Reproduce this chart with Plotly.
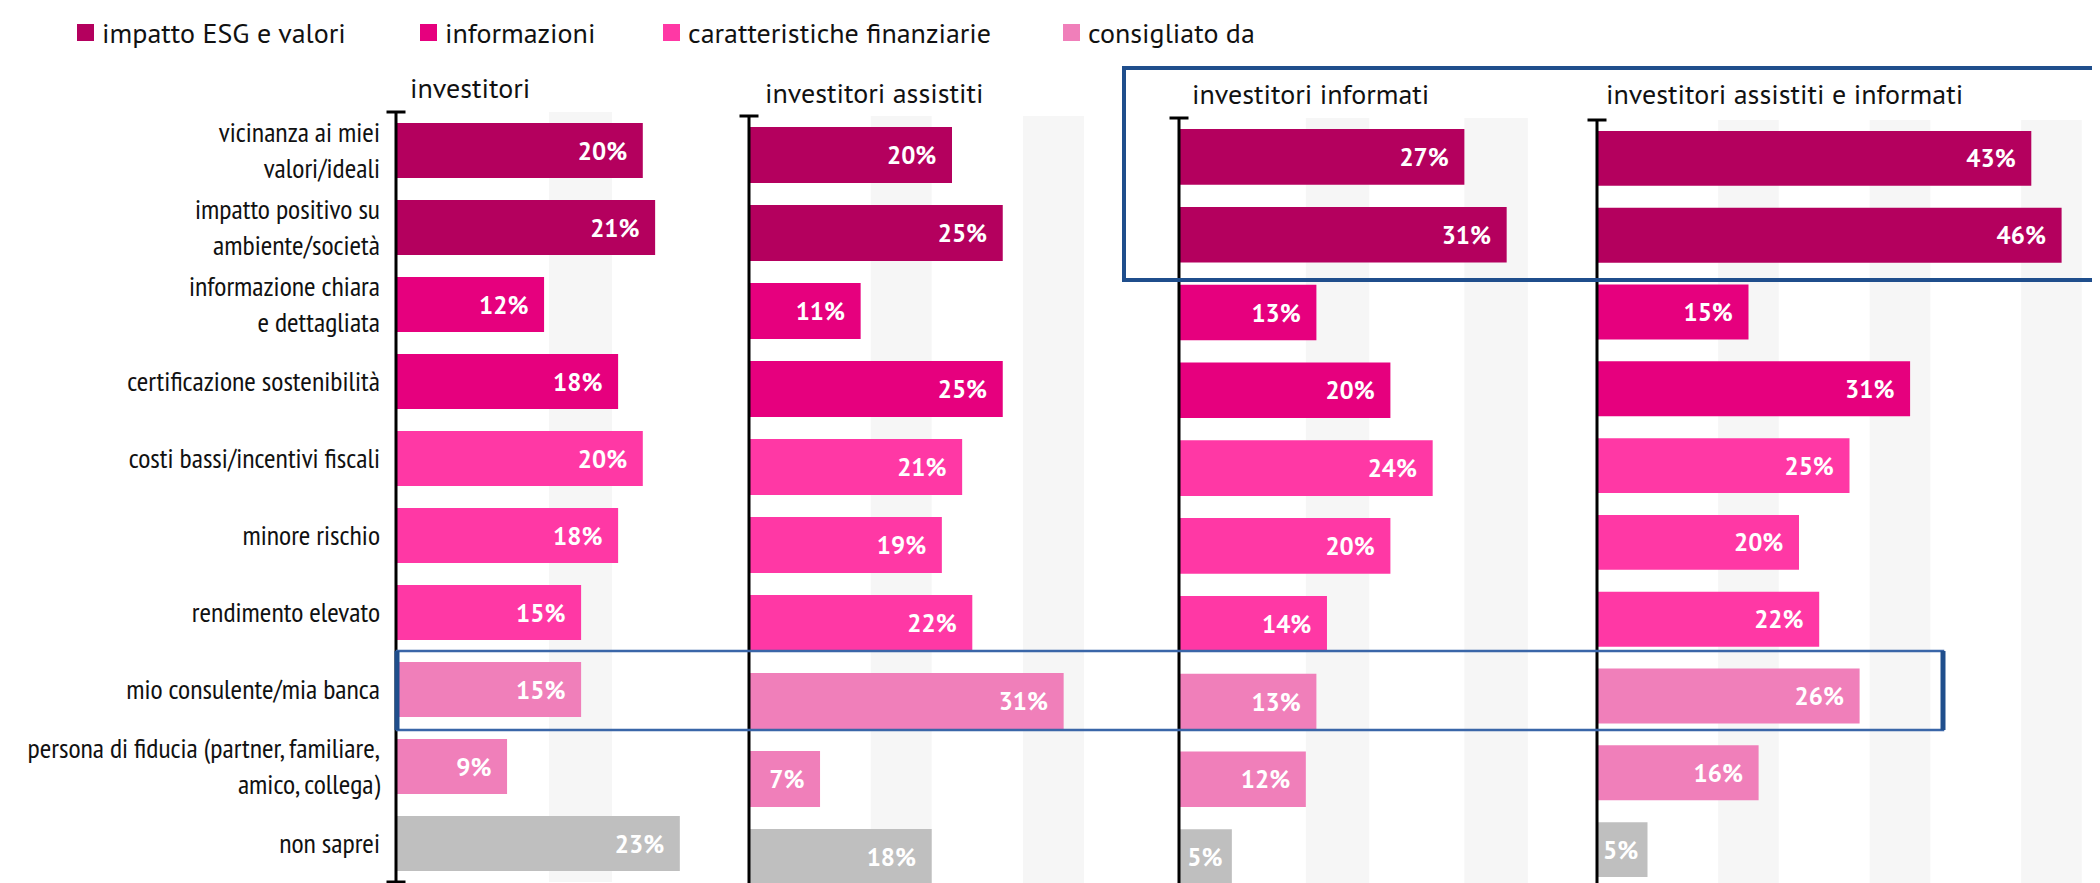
import plotly.graph_objects as go

W, H = 2100, 883

# ---------------- data ----------------
categories = [
    "vicinanza ai miei<br>valori/ideali",
    "impatto positivo su<br>ambiente/società",
    "informazione chiara<br>e dettagliata",
    "certificazione sostenibilità",
    "costi bassi/incentivi fiscali",
    "minore rischio",
    "rendimento elevato",
    "mio consulente/mia banca",
    "persona di fiducia (partner, familiare,<br>amico, collega)",
    "non saprei",
]
category_groups = (["impatto ESG e valori"] * 2 + ["informazioni"] * 2
                   + ["caratteristiche finanziarie"] * 3 + ["consigliato da"] * 2
                   + ["non saprei"])

panel_titles = ["investitori", "investitori assistiti", "investitori informati",
                "investitori assistiti e informati"]
investitori = [20, 21, 12, 18, 20, 18, 15, 15, 9, 23]
investitori_assistiti = [20, 25, 11, 25, 21, 19, 22, 31, 7, 18]
investitori_informati = [27, 31, 13, 20, 24, 20, 14, 13, 12, 5]
investitori_assistiti_informati = [43, 46, 15, 31, 25, 20, 22, 26, 16, 5]
panel_values = [investitori, investitori_assistiti, investitori_informati,
                investitori_assistiti_informati]

legend_groups = ["impatto ESG e valori", "informazioni", "caratteristiche finanziarie",
                 "consigliato da"]
group_colors = {
    "impatto ESG e valori": "#B4005E",
    "informazioni": "#E6007E",
    "caratteristiche finanziarie": "#FF38A5",
    "consigliato da": "#F07FBA",
    "non saprei": "#BFBFBF",
}

# ---------------- fonts ----------------
LABEL_FONT = "PT Sans Narrow, Liberation Sans Narrow, Arial Narrow, sans-serif"
MAIN_FONT = "PT Sans, Liberation Sans, Arial, sans-serif"

# ---------------- layout geometry (pixels) ----------------
panels = [
    dict(axis=388, scale=12.34, left=373, right=725, top=104, pitch=77.0,
         stripes=[(12.4, 17.5)], tx=400, ty=79),
    dict(axis=741, scale=10.15, left=726, right=1150, top=108, pitch=78.0,
         stripes=[(12, 18), (27, 33)], tx=755, ty=84),
    dict(axis=1171, scale=10.57, left=1156, right=1574, top=110, pitch=77.8,
         stripes=[(12, 18), (27, 33)], tx=1182, ty=85),
    dict(axis=1589, scale=10.10, left=1575, right=2100, top=112, pitch=76.8,
         stripes=[(12, 18), (27, 33), (42, 48)], tx=1596, ty=86),
]
PADTOP = 14


def px(x):
    return x / W


def py(y):
    return 1 - y / H


fig = go.Figure()
shapes = []
annotations = []
n = len(categories)

for i, (p, vals, title) in enumerate(zip(panels, panel_values, panel_titles)):
    k = "" if i == 0 else str(i + 1)
    xa, ya = "x" + k, "y" + k
    colors = [group_colors[g] for g in category_groups]
    texts = [f"{v}%" + ("\u00a0\u00a0" if v >= 7 else "\u00a0") for v in vals]
    fig.add_trace(go.Bar(
        x=vals, y=categories, orientation="h", xaxis=xa, yaxis=ya,
        marker=dict(color=colors, line=dict(width=0)), width=0.715,
        text=texts, textposition="inside", insidetextanchor="end",
        constraintext="none",
        textfont=dict(family=MAIN_FONT, size=25, color="white", weight="bold"),
        showlegend=False, hoverinfo="x+y",
    ))
    fig.update_layout({
        "xaxis" + k: dict(domain=[px(p["left"]), px(p["right"])],
                          range=[(p["left"] - p["axis"]) / p["scale"],
                                 (p["right"] - p["axis"]) / p["scale"]],
                          visible=False, fixedrange=True, anchor=ya),
        "yaxis" + k: dict(domain=[0, py(p["top"] - PADTOP)],
                          range=[-0.5 + (H - p["top"]) / p["pitch"],
                                 -0.5 - PADTOP / p["pitch"]],
                          type="category", categoryorder="array", categoryarray=categories,
                          showgrid=False, zeroline=False, showline=False, ticks="",
                          showticklabels=(i == 0), anchor=xa, fixedrange=True,
                          tickfont=dict(family=LABEL_FONT, size=28, color="#111111")),
    })
    # background stripes
    for s0, s1 in p["stripes"]:
        shapes.append(dict(type="rect", xref=xa, yref=ya, x0=s0, x1=s1, y0=-0.5, y1=n - 0.5,
                           fillcolor="#F6F6F6", line=dict(width=0), layer="below"))
    # axis spine with end caps
    shapes.append(dict(type="line", xref=xa, yref=ya, x0=0, x1=0, y0=-0.5, y1=n - 0.5,
                       line=dict(color="black", width=3), layer="above"))
    for yc in (-0.5, n - 0.5):
        shapes.append(dict(type="line", xref=xa, yref=ya, xsizemode="pixel", xanchor=0,
                           x0=-9.5, x1=9.5, y0=yc, y1=yc,
                           line=dict(color="black", width=3), layer="above"))
    annotations.append(dict(text=title, xref="paper", yref="paper", x=px(p["tx"]),
                            y=py(p["ty"]), xanchor="left", yanchor="middle",
                            showarrow=False,
                            font=dict(family=MAIN_FONT, size=28, color="#111111")))

# legend (squares + labels)
legend_sq_x = [69, 412, 655, 1055]
for g, lx in zip(legend_groups, legend_sq_x):
    shapes.append(dict(type="rect", xref="paper", yref="paper", x0=px(lx), x1=px(lx + 17),
                       y0=py(33), y1=py(16), fillcolor=group_colors[g], line=dict(width=0)))
    annotations.append(dict(text=g, xref="paper", yref="paper", x=px(lx + 23), y=py(24),
                            xanchor="left", yanchor="middle", showarrow=False,
                            font=dict(family=MAIN_FONT, size=28, color="#111111")))

# highlight boxes
shapes.append(dict(type="rect", xref="paper", yref="paper", x0=px(1116), x1=px(2115),
                   y0=py(272), y1=py(60), line=dict(color="#1F4E8C", width=4),
                   fillcolor="rgba(0,0,0,0)", layer="above"))
shapes.append(dict(type="rect", xref="paper", yref="paper", x0=px(389), x1=px(1935),
                   y0=py(722), y1=py(643), line=dict(color="#3A66A8", width=2.5),
                   fillcolor="rgba(0,0,0,0)", layer="above"))
for ex in (389, 1935):
    shapes.append(dict(type="line", xref="paper", yref="paper", x0=px(ex), x1=px(ex),
                       y0=py(722), y1=py(643), line=dict(color="#1F4E8C", width=5),
                       layer="above"))

fig.update_layout(
    width=W, height=H, margin=dict(l=0, r=0, t=0, b=0),
    paper_bgcolor="white", plot_bgcolor="rgba(0,0,0,0)",
    shapes=shapes, annotations=annotations, showlegend=False,
)

fig.write_html("out.html")
